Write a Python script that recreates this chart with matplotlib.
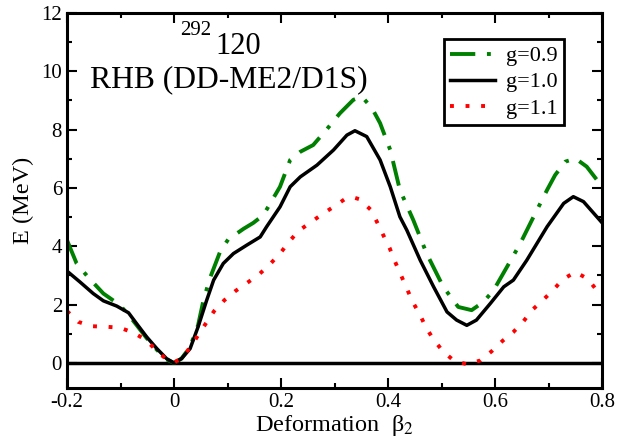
import matplotlib
matplotlib.use('Agg')
import matplotlib.pyplot as plt
from matplotlib.ticker import MultipleLocator

plt.rcParams['font.family'] = ['Liberation Serif', 'DejaVu Serif']
plt.rcParams['mathtext.fontset'] = 'stix'

# Deformation energy curves for 292-120, three pairing strengths
beta_g10 = [-0.2, -0.176, -0.151, -0.132, -0.107, -0.085, -0.07, -0.051, -0.032, -0.014,
            0.0, 0.014, 0.030, 0.045, 0.061, 0.074, 0.092, 0.111, 0.136, 0.161,
            0.173, 0.198, 0.217, 0.236, 0.267, 0.298, 0.323, 0.338, 0.360, 0.385,
            0.404, 0.422, 0.435, 0.460, 0.485, 0.510, 0.528, 0.547, 0.565, 0.591,
            0.616, 0.634, 0.659, 0.697, 0.728, 0.746, 0.765, 0.790, 0.8]
e_g10 = [3.15, 2.78, 2.38, 2.13, 1.95, 1.72, 1.35, 0.89, 0.49, 0.15,
         0.0, 0.15, 0.49, 1.24, 2.15, 2.84, 3.41, 3.75, 4.04, 4.32,
         4.67, 5.35, 6.04, 6.38, 6.78, 7.30, 7.81, 7.96, 7.76, 6.96,
         6.04, 5.01, 4.55, 3.52, 2.61, 1.75, 1.47, 1.29, 1.47, 2.04,
         2.61, 2.84, 3.52, 4.67, 5.47, 5.70, 5.53, 5.01, 4.8]

beta_g09 = [-0.2, -0.182, -0.160, -0.132, -0.101, -0.082, -0.07, -0.051, -0.032, -0.014,
            0.0, 0.014, 0.030, 0.045, 0.055, 0.067, 0.086, 0.101, 0.130, 0.148,
            0.167, 0.198, 0.217, 0.236, 0.260, 0.285, 0.310, 0.335, 0.351, 0.370,
            0.385, 0.404, 0.422, 0.447, 0.472, 0.503, 0.531, 0.556, 0.578, 0.597,
            0.622, 0.647, 0.675, 0.697, 0.712, 0.731, 0.750, 0.771, 0.8]
e_g09 = [4.21, 3.41, 2.93, 2.38, 1.98, 1.58, 1.30, 0.85, 0.45, 0.12,
         0.0, 0.15, 0.55, 1.30, 2.15, 2.90, 3.81, 4.23, 4.60, 4.80,
         5.07, 6.04, 6.96, 7.24, 7.47, 8.0, 8.56, 9.02, 9.13, 8.73,
         8.22, 7.30, 5.93, 4.90, 3.75, 2.61, 1.92, 1.81, 2.09, 2.49,
         3.29, 4.10, 5.13, 5.93, 6.44, 6.90, 7.01, 6.73, 6.04]

beta_g11 = [-0.2, -0.179, -0.154, -0.126, -0.101, -0.075, -0.052, -0.032, -0.012, 0.0,
            0.013, 0.031, 0.045, 0.060, 0.075, 0.094, 0.115, 0.137, 0.159, 0.179,
            0.198, 0.214, 0.232, 0.254, 0.276, 0.298, 0.321, 0.334, 0.347, 0.367,
            0.379, 0.391, 0.403, 0.413, 0.424, 0.435, 0.446, 0.459, 0.471, 0.485,
            0.502, 0.522, 0.548, 0.573, 0.594, 0.614, 0.634, 0.653, 0.670, 0.689,
            0.708, 0.726, 0.750, 0.773, 0.790, 0.8]
e_g11 = [1.78, 1.41, 1.26, 1.24, 1.21, 1.03, 0.78, 0.41, 0.09, 0.02,
         0.15, 0.55, 0.95, 1.37, 1.78, 2.15, 2.47, 2.75, 3.04, 3.38,
         3.75, 4.13, 4.52, 4.80, 5.09, 5.35, 5.64, 5.68, 5.61, 5.26,
         4.84, 4.38, 3.93, 3.47, 3.01, 2.55, 2.09, 1.67, 1.21, 0.80,
         0.41, 0.09, -0.05, 0.09, 0.41, 0.76, 1.06, 1.43, 1.83, 2.15,
         2.49, 2.86, 3.12, 2.88, 2.49, 2.3]

labels = ['g=0.9', 'g=1.0', 'g=1.1']

fig = plt.figure(figsize=(6.26, 4.44), dpi=100)
ax = fig.add_axes([0.107, 0.126, 0.855, 0.845])

ax.axhline(0, color='black', lw=2.5, zorder=1)
ax.plot(beta_g09, e_g09, color='#008000', lw=2.8, dashes=(6.5, 3, 1, 3), label=labels[0])
ax.plot(beta_g10, e_g10, color='black', lw=2.5, label=labels[1])
ax.plot(beta_g11, e_g11, color='#ff0000', lw=2.8, dashes=(1, 3), label=labels[2])

ax.set_xlim(-0.2, 0.8)
ax.set_ylim(-0.86, 12)
ax.xaxis.set_minor_locator(MultipleLocator(0.1))
ax.yaxis.set_major_locator(MultipleLocator(2))
ax.yaxis.set_minor_locator(MultipleLocator(1))
ax.set_xticks([-0.2, 0, 0.2, 0.4, 0.6, 0.8])
ax.set_xticklabels(['-0.2', '0', '0.2', '0.4', '0.6', '0.8'])
ax.tick_params(which='both', direction='in', top=True, right=True, width=1.5,
               labelsize=15, colors='black')
ax.tick_params(which='major', length=7.5)
ax.tick_params(which='minor', length=3.8)
for s in ax.spines.values():
    s.set_linewidth(2.2)

ax.set_xlabel('Deformation  β$_2$', fontsize=17.5, labelpad=1)
ax.set_ylabel('E (MeV)', fontsize=17.5, labelpad=5)

ax.text(0.211, 0.952, '292', transform=ax.transAxes, fontsize=15, ha='left', va='center')
ax.text(0.277, 0.910, '120', transform=ax.transAxes, fontsize=22, ha='left', va='center')
ax.text(0.043, 0.821, 'RHB (DD-ME2/D1S)', transform=ax.transAxes, fontsize=22.8,
        ha='left', va='center')

leg = ax.legend(loc='upper right', bbox_to_anchor=(0.929, 0.930), fontsize=16,
                fancybox=False, framealpha=1, edgecolor='black', handlelength=2.0,
                handletextpad=0.5, borderpad=0.3, labelspacing=0.25, borderaxespad=0)
leg.get_frame().set_linewidth(2)

fig.savefig('out.png', dpi=100)
